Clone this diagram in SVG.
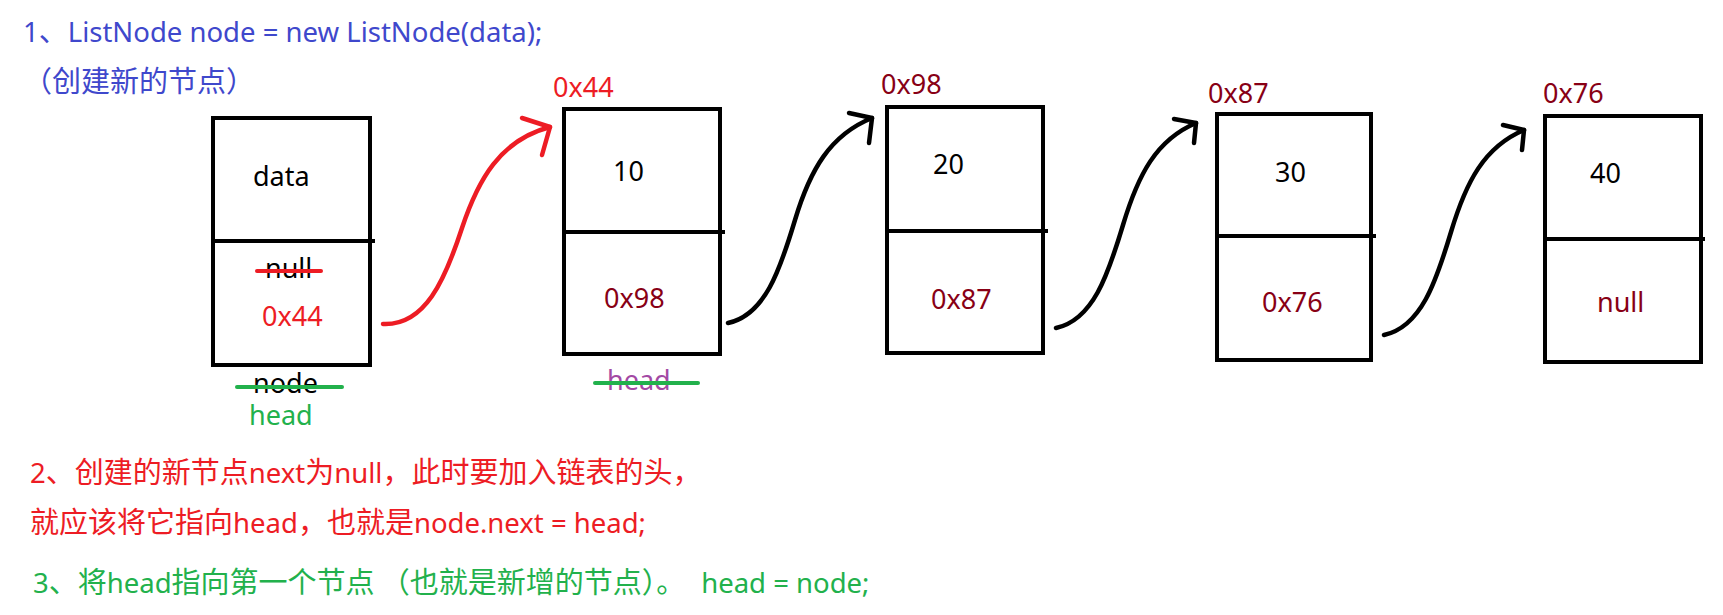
<svg xmlns="http://www.w3.org/2000/svg" width="1723" height="615" viewBox="0 0 1723 615">
<style>
text{font-family:"Noto Sans","Noto Sans CJK SC",sans-serif;font-size:27.5px}
.c{font-family:"Noto Sans CJK SC","Noto Sans",sans-serif;font-size:29px}
.bt{font-size:27px}
.box{fill:#fff;stroke:#000;stroke-width:4}
.div{stroke:#000;stroke-width:4}
.blk{fill:#000}
.red{fill:#ed1c24}
.dred{fill:#880015}
.grn{fill:#22b14c}
.blu{fill:#3f48cc}
.pur{fill:#a349a4}
.strike{stroke-width:4;stroke-linecap:round}
.arr{fill:none;stroke-width:4.5;stroke-linecap:round;stroke-linejoin:round}
</style>
<rect width="1723" height="615" fill="#fff"/>
<g id="title">
<text x="23" y="42" class="blu">1<tspan class="c">、</tspan>ListNode node = new ListNode(data);</text>
<text x="23" y="92" class="blu c">（创建新的节点）</text>
</g>
<g id="node-new">
<rect class="box" x="213" y="118" width="157" height="247"/>
<line class="div" x1="211" y1="241" x2="375" y2="241"/>
<text class="bt blk" x="253" y="186">data</text>
<text class="bt blk" x="265" y="278">null</text>
<line class="strike" stroke="#ed1c24" x1="257" y1="271" x2="321" y2="271"/>
<text class="bt red" x="262" y="326">0x44</text>
<text class="bt blk" x="253" y="393">node</text>
<line class="strike" stroke="#22b14c" x1="237" y1="387" x2="342" y2="387"/>
<text class="bt grn" x="249" y="425">head</text>
</g>
<g id="node-10">
<text class="bt red" x="553" y="97">0x44</text>
<rect class="box" x="564" y="109" width="156" height="245"/>
<line class="div" x1="562" y1="232" x2="725" y2="232"/>
<text class="bt blk" x="613" y="181">10</text>
<text class="bt dred" x="604" y="308">0x98</text>
<text class="bt pur" x="607" y="390">head</text>
<line class="strike" stroke="#22b14c" x1="595" y1="383" x2="698" y2="383"/>
</g>
<g id="node-20">
<text class="bt dred" x="881" y="94">0x98</text>
<rect class="box" x="887" y="107" width="156" height="246"/>
<line class="div" x1="885" y1="231" x2="1048" y2="231"/>
<text class="bt blk" x="933" y="174">20</text>
<text class="bt dred" x="931" y="309">0x87</text>
</g>
<g id="node-30">
<text class="bt dred" x="1208" y="103">0x87</text>
<rect class="box" x="1217" y="114" width="154" height="246"/>
<line class="div" x1="1215" y1="236" x2="1376" y2="236"/>
<text class="bt blk" x="1275" y="182">30</text>
<text class="bt dred" x="1262" y="312">0x76</text>
</g>
<g id="node-40">
<text class="bt dred" x="1543" y="103">0x76</text>
<rect class="box" x="1545" y="116" width="156" height="246"/>
<line class="div" x1="1543" y1="239" x2="1705" y2="239"/>
<text class="bt blk" x="1590" y="183">40</text>
<text class="bt dred" x="1597" y="312">null</text>
</g>
<g id="connectors">
<g>
<path class="arr" stroke="#ed1c24" d="M383,324 C425,326 445,280 462,228 C478,180 500,140 550,127"/>
<path class="arr" stroke="#ed1c24" d="M522,118 L550,127 L542,155"/>
</g>
<g transform="translate(728,323)">
<path class="arr" stroke="#000" d="M0,0 C37,-8 52,-53 67,-103 C82,-153 102,-188 144,-205"/>
<path class="arr" stroke="#000" d="M121,-210 L144,-205 L141,-180"/>
</g>
<g transform="translate(1056,328)">
<path class="arr" stroke="#000" d="M0,0 C37,-8 52,-53 67,-103 C82,-153 100,-188 140,-205"/>
<path class="arr" stroke="#000" d="M118,-209 L140,-205 L138,-185"/>
</g>
<g transform="translate(1384,335)">
<path class="arr" stroke="#000" d="M0,0 C37,-8 52,-53 67,-103 C82,-153 100,-188 140,-205"/>
<path class="arr" stroke="#000" d="M119,-210 L140,-205 L138,-185"/>
</g>
</g>
<g id="notes">
<text x="30" y="483" class="red">2<tspan class="c">、创建的新节点</tspan>next<tspan class="c">为</tspan>null<tspan class="c">，此时要加入链表的头，</tspan></text>
<text x="30" y="533" class="red"><tspan class="c">就应该将它指向</tspan>head<tspan class="c">，也就是</tspan>node.next = head;</text>
<text x="33" y="593" class="grn">3<tspan class="c">、将</tspan>head<tspan class="c">指向第一个节点</tspan><tspan class="c" dx="6">（也就是新增的节点）。</tspan><tspan dx="16">head = node;</tspan></text>
</g>
</svg>
